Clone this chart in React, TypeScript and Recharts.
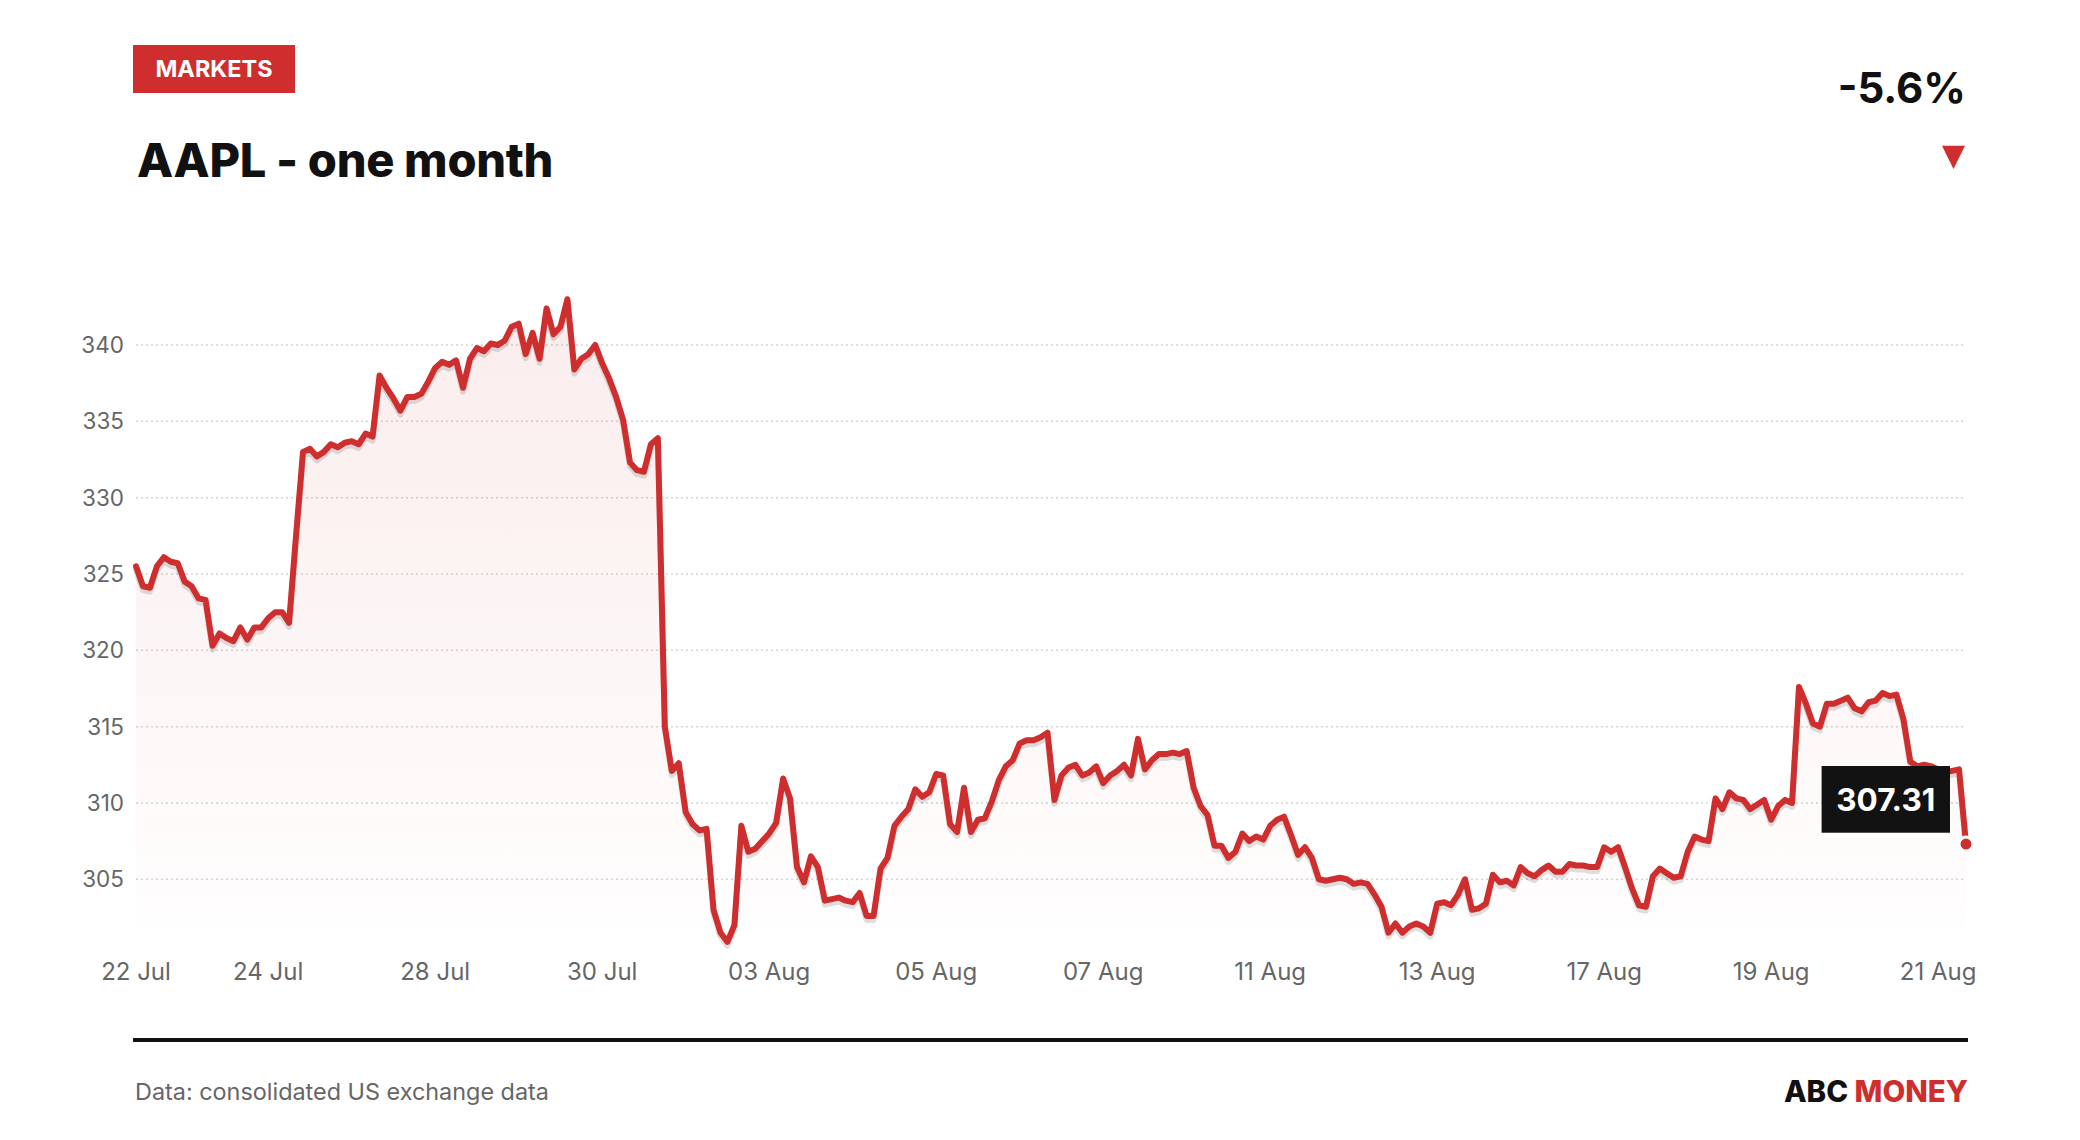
import React from 'react';
import { ComposedChart, Line, Area, XAxis, YAxis, CartesianGrid, ReferenceDot } from 'recharts';

// Trading sessions shown on the x axis (one month of AAPL, intraday)
const days = [
  '22 Jul', '23 Jul', '24 Jul', '27 Jul', '28 Jul', '29 Jul', '30 Jul', '31 Jul',
  '03 Aug', '04 Aug', '05 Aug', '06 Aug', '07 Aug', '10 Aug', '11 Aug', '12 Aug',
  '13 Aug', '14 Aug', '17 Aug', '18 Aug', '19 Aug', '20 Aug', '21 Aug',
];

// Intraday prices (12 readings per full session; first and last sessions are partial)
const jul22 = [325.5, 324.2, 324.1, 325.5, 326.1, 325.8, 325.7];
const jul23 = [324.5, 324.2, 323.4, 323.3, 320.3, 321.1, 320.8, 320.6, 321.5, 320.7, 321.5, 321.5];
const jul24 = [322.1, 322.5, 322.5, 321.8, 327.5, 333.0, 333.2, 332.7, 333.0, 333.5, 333.3, 333.6];
const jul27 = [333.7, 333.5, 334.2, 334.0, 338.0, 337.2, 336.5, 335.7, 336.6, 336.6, 336.8, 337.6];
const jul28 = [338.5, 338.9, 338.7, 339.0, 337.2, 339.1, 339.8, 339.6, 340.1, 340.0, 340.3, 341.2];
const jul29 = [341.4, 339.4, 340.8, 339.1, 342.4, 340.7, 341.2, 343.0, 338.4, 339.1, 339.4, 340.0];
const jul30 = [338.8, 337.8, 336.6, 335.1, 332.3, 331.8, 331.7, 333.5, 333.9, 315.0, 312.1, 312.6];
const jul31 = [309.4, 308.6, 308.2, 308.3, 303.0, 301.5, 300.9, 302.0, 308.5, 306.8, 307.0, 307.5];
const aug03 = [308.0, 308.7, 311.6, 310.3, 305.8, 304.8, 306.5, 305.8, 303.6, 303.7, 303.8, 303.6];
const aug04 = [303.5, 304.1, 302.6, 302.6, 305.7, 306.4, 308.5, 309.1, 309.6, 310.9, 310.4, 310.7];
const aug05 = [311.9, 311.8, 308.6, 308.1, 311.0, 308.1, 308.9, 309.0, 310.1, 311.5, 312.4, 312.8];
const aug06 = [313.9, 314.1, 314.1, 314.3, 314.6, 310.2, 311.8, 312.3, 312.5, 311.8, 312.0, 312.4];
const aug07 = [311.3, 311.8, 312.1, 312.5, 311.8, 314.2, 312.2, 312.8, 313.2, 313.2, 313.3, 313.2];
const aug10 = [313.4, 311.0, 309.8, 309.2, 307.2, 307.2, 306.4, 306.8, 308.0, 307.5, 307.8, 307.6];
const aug11 = [308.5, 308.9, 309.1, 307.9, 306.6, 307.1, 306.4, 305.0, 304.9, 305.0, 305.1, 305.0];
const aug12 = [304.7, 304.8, 304.7, 304.0, 303.2, 301.5, 302.1, 301.5, 301.9, 302.1, 301.9, 301.5];
const aug13 = [303.4, 303.5, 303.3, 304.0, 305.0, 303.0, 303.1, 303.4, 305.3, 304.8, 304.9, 304.6];
const aug14 = [305.8, 305.4, 305.2, 305.6, 305.9, 305.5, 305.5, 306.0, 305.9, 305.9, 305.8, 305.8];
const aug17 = [307.1, 306.8, 307.1, 305.8, 304.4, 303.3, 303.2, 305.2, 305.7, 305.4, 305.1, 305.2];
const aug18 = [306.8, 307.8, 307.6, 307.5, 310.3, 309.6, 310.7, 310.3, 310.2, 309.6, 309.9, 310.2];
const aug19 = [308.9, 309.8, 310.2, 310.0, 317.6, 316.5, 315.2, 315.0, 316.5, 316.5, 316.7, 316.9];
const aug20 = [316.2, 316.0, 316.6, 316.7, 317.2, 317.0, 317.1, 315.5, 312.7, 312.4, 312.5, 312.4];
const aug21 = [312.2, 312.0, 312.1, 312.2, 307.31];

const sessions = [
  jul22, jul23, jul24, jul27, jul28, jul29, jul30, jul31,
  aug03, aug04, aug05, aug06, aug07, aug10, aug11, aug12,
  aug13, aug14, aug17, aug18, aug19, aug20, aug21,
];

const SLOTS_PER_DAY = 12;
const FIRST_SLOT = 5; // the first session starts part-way through the day

const tickDays = [0, 2, 4, 6, 8, 10, 12, 14, 16, 18, 20, 22];
const yTicks = [305, 310, 315, 320, 325, 330, 335, 340];
const yDomain = [300, 345];
// the drop shadow under the line: same prices on an axis nudged ~4px lower
const shadowShift = 0.26;
const shadowDomain = [yDomain[0] + shadowShift, yDomain[1] + shadowShift];
const fillBase = 301.7;

const title = 'AAPL - one month';
const tag = 'MARKETS';
const changeText = '-5.6%';
const sourceText = 'Data: consolidated US exchange data';

const data = sessions.flatMap((vals, d) =>
  vals.map((v, k) => ({ t: d + (k + (d === 0 ? FIRST_SLOT : 0)) / SLOTS_PER_DAY, v }))
);
const xTicks = tickDays.map((d) => (d === 0 ? FIRST_SLOT / SLOTS_PER_DAY : d));
const fmtX = (t: number) => days[Math.floor(t + 1e-9)];
const last = data[data.length - 1];

const RED = '#cf2e2e';
const FONT = 'Inter, "Noto Sans", sans-serif';

const EndMarker = (props: any) => {
  const { cx, cy } = props;
  if (cx == null || cy == null) return null;
  return (
    <g>
      <circle cx={cx} cy={cy} r={7} fill={RED} stroke="#fff" strokeWidth={3} />
      <rect x={cx - 144.4} y={cy - 78} width={128.4} height={66.7} fill="#121212" />
      <text
        x={cx - 80.2}
        y={cy - 33}
        textAnchor="middle"
        fill="#fff"
        fontSize={31.5}
        fontWeight={700}
        fontFamily={FONT}
      >
        {last.v.toFixed(2)}
      </text>
    </g>
  );
};

export default function App() {
  return (
    <div
      style={{
        position: 'absolute',
        left: 0,
        top: 0,
        width: 2080,
        height: 1140,
        background: '#fff',
        fontFamily: FONT,
        overflow: 'hidden',
      }}
    >
      <div style={{ position: 'absolute', left: 0, top: 0 }}>
        <ComposedChart
          width={2080}
          height={1140}
          data={data}
          margin={{ top: 268.7, right: 114, bottom: 144.4, left: 0 }}
        >
          <defs>
            <linearGradient id="areaFill" x1="0" y1="0" x2="0" y2="1">
              <stop offset="0%" stopColor={RED} stopOpacity={0.15} />
              <stop offset="100%" stopColor={RED} stopOpacity={0.01} />
            </linearGradient>
          </defs>
          <CartesianGrid
            vertical={false}
            horizontalValues={yTicks}
            stroke="#d4d4d4"
            strokeDasharray="2 3"
            strokeWidth={1.5}
          />
          <XAxis
            dataKey="t"
            type="number"
            domain={['dataMin', 'dataMax']}
            ticks={xTicks}
            interval={0}
            tickFormatter={fmtX}
            axisLine={false}
            tickLine={false}
            tickSize={0}
            tickMargin={7}
            height={40}
            tick={{ fontSize: 24, fill: '#666', fontFamily: FONT }}
          />
          <YAxis
            type="number"
            domain={yDomain}
            ticks={yTicks}
            interval={0}
            axisLine={false}
            tickLine={false}
            tickSize={0}
            tickMargin={12}
            width={136}
            tick={{ fontSize: 22.5, fill: '#666', fontFamily: FONT }}
          />
          <YAxis yAxisId="shadow" type="number" domain={shadowDomain} allowDataOverflow hide />
          <Area
            type="linear"
            dataKey="v"
            baseValue={fillBase}
            stroke="none"
            fill="url(#areaFill)"
            isAnimationActive={false}
          />
          <Line
            yAxisId="shadow"
            type="linear"
            dataKey="v"
            stroke="#000"
            strokeOpacity={0.12}
            strokeWidth={6}
            strokeLinejoin="round"
            strokeLinecap="round"
            dot={false}
            activeDot={false}
            isAnimationActive={false}
          />
          <Line
            type="linear"
            dataKey="v"
            stroke={RED}
            strokeWidth={6}
            strokeLinejoin="round"
            strokeLinecap="round"
            dot={false}
            activeDot={false}
            isAnimationActive={false}
          />
          <ReferenceDot x={last.t} y={last.v} r={7} ifOverflow="hidden" shape={EndMarker} />
        </ComposedChart>
      </div>
      <svg
        width={2080}
        height={1140}
        style={{ position: 'absolute', left: 0, top: 0, pointerEvents: 'none' }}
      >
        <rect x={133} y={45} width={162} height={48} fill="#d02e2e" />
        <text x={214} y={77.3} textAnchor="middle" fill="#fff" fontSize={23.5} fontWeight={700} fontFamily={FONT}>
          {tag}
        </text>
        <text x={137} y={176.7} fill="#111" fontSize={47} fontWeight={800} fontFamily={FONT} letterSpacing={-0.3}>
          {title}
        </text>
        <text x={1966} y={102.7} textAnchor="end" fill="#111" fontSize={42} fontWeight={700} fontFamily={FONT}>
          {changeText}
        </text>
        <polygon points="1942,145.7 1965,145.7 1953.5,169" fill={RED} />
        <rect x={133} y={1038} width={1835} height={4} fill="#111" />
        <text x={135} y={1100} fill="#666" fontSize={23.4} fontFamily={FONT}>
          {sourceText}
        </text>
        <text x={1968} y={1101.7} textAnchor="end" fontSize={29.5} fontWeight={800} fontFamily={FONT}>
          <tspan fill="#111">ABC </tspan>
          <tspan fill={RED}>MONEY</tspan>
        </text>
      </svg>
    </div>
  );
}
